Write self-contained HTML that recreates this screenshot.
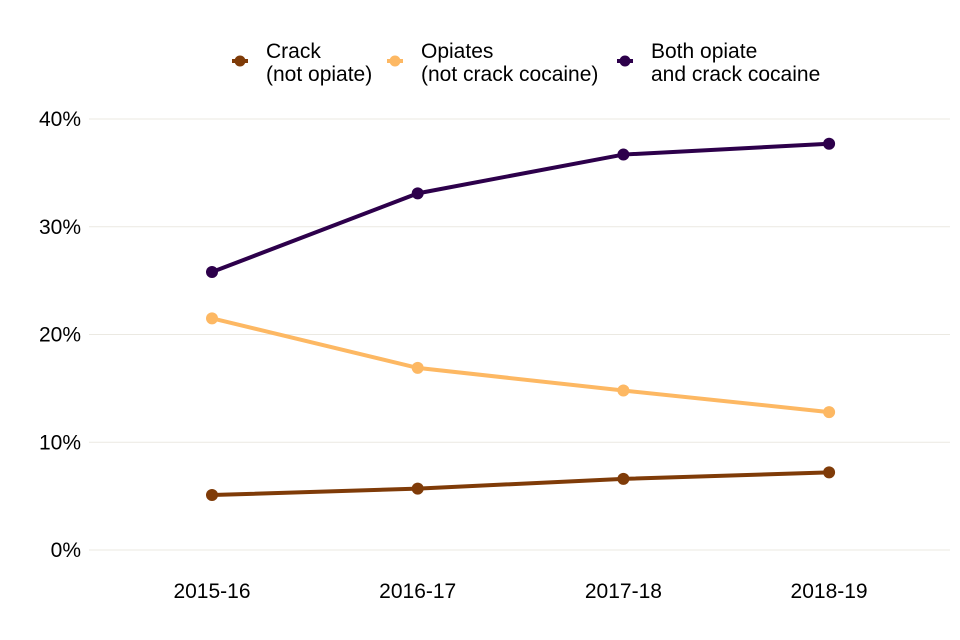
<!DOCTYPE html>
<html><head><meta charset="utf-8"><style>
body{margin:0;background:#fff}
svg{display:block;font-family:"Liberation Sans",Arial,sans-serif}
</style></head><body>
<svg id="chart" width="960" height="640">
<g id="grid"></g>
<g id="yaxis"></g>
<g id="xaxis"></g>
<g id="series"></g>
<g id="legend"></g>
</svg>
<script>
const categories=["2015-16","2016-17","2017-18","2018-19"];
const crack=[5.1,5.7,6.6,7.2];
const opiates=[21.5,16.9,14.8,12.8];
const both=[25.8,33.1,36.7,37.7];
const yTicks=[0,10,20,30,40];
const yTickLabels=["0%","10%","20%","30%","40%"];
const seriesNames=[["Crack","(not opiate)"],["Opiates","(not crack cocaine)"],["Both opiate","and crack cocaine"]];

const NS="http://www.w3.org/2000/svg";
function mk(tag,attrs,parent,text){const e=document.createElementNS(NS,tag);for(const k in attrs)e.setAttribute(k,attrs[k]);if(text!==undefined)e.textContent=text;parent.appendChild(e);return e;}
const x=i=>212+i*205.7;
const y=v=>550-v*10.775;
const grid=document.getElementById('grid'),ya=document.getElementById('yaxis'),xa=document.getElementById('xaxis'),sg=document.getElementById('series'),lg=document.getElementById('legend');
yTicks.forEach((t,i)=>{
 const l=mk('line',{x1:89,x2:950,y1:y(t),y2:y(t),stroke:'#ebe9e2','stroke-width':1},grid);
 
 
 const tx=mk('text',{x:81,y:y(t)+7,'text-anchor':'end','font-size':21,fill:'#000'},ya,yTickLabels[i]);
 
 
});
categories.forEach((c,i)=>{
 const tx=mk('text',{x:x(i),y:598,'text-anchor':'middle','font-size':21,fill:'#000'},xa,c);
 
 
});
const data=[crack,opiates,both];
const colors=["#7f3b08","#fdb863","#2d004b"];
const names=["crack","opiates","both"];
data.forEach((d,s)=>{
 const g=mk('g',{},sg);
 
 
 const p=mk('polyline',{points:d.map((v,i)=>x(i)+','+y(v)).join(' '),fill:'none',stroke:colors[s],'stroke-width':4},g);
 
 
 d.forEach((v,i)=>{
  const c=mk('circle',{cx:x(i),cy:y(v),r:6,fill:colors[s]},g);
  
  
 });
});
const lx=[240,395,625];
seriesNames.forEach((n,s)=>{
 const g=mk('g',{},lg);
 
 
 mk('line',{x1:lx[s]-8,x2:lx[s]+8,y1:61,y2:61,stroke:colors[s],'stroke-width':4},g);
 mk('circle',{cx:lx[s],cy:61,r:5.5,fill:colors[s]},g);
 mk('text',{x:lx[s]+26,y:58,'font-size':21,fill:'#000'},g,n[0]);
 mk('text',{x:lx[s]+26,y:81,'font-size':21,fill:'#000'},g,n[1]);
});
</script>
</body></html>
